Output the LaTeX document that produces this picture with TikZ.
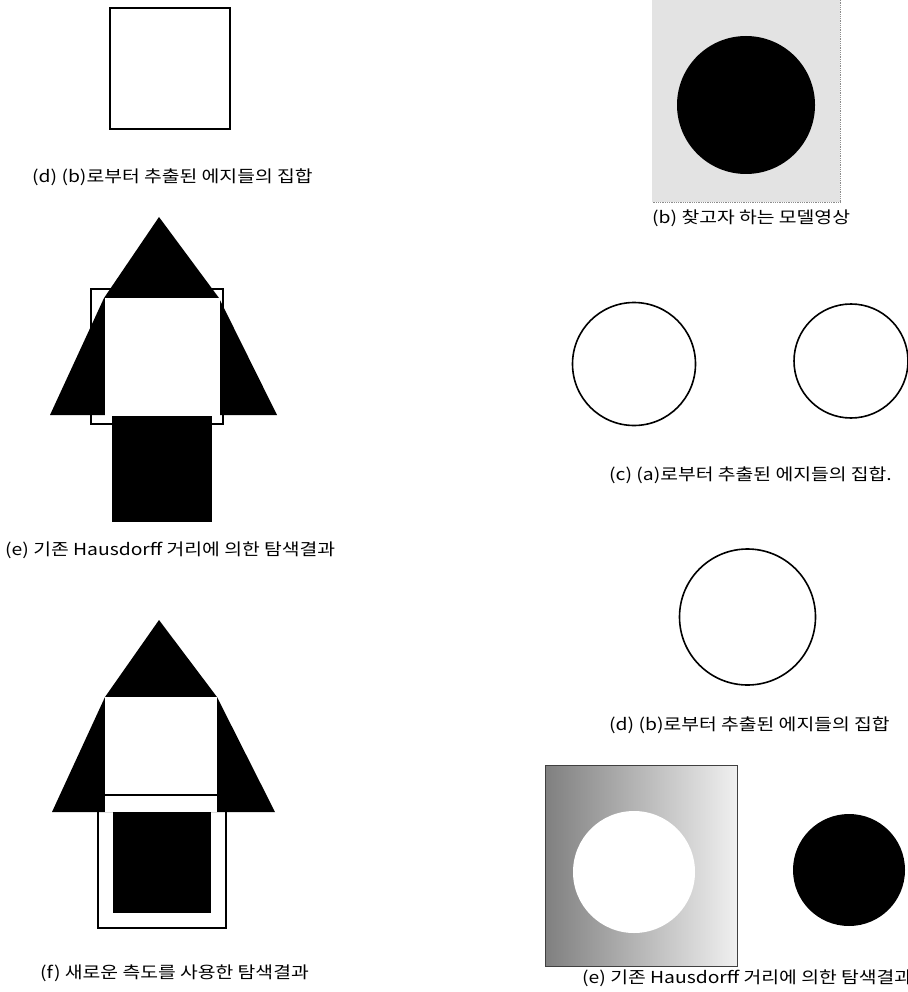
\documentclass[tikz,border=0pt]{standalone}
\usepackage{fontspec}
\newfontfamily\kr[FakeStretch=1.17]{Noto Sans CJK KR}
\tikzset{
  captext/.style={anchor=west, inner sep=0pt, font=\kr\fontsize{16.5}{18}\selectfont},
  edgeline/.style={draw=black, line width=1.6pt},
  frameline/.style={draw=black, line width=1.2pt}
}
\begin{document}
\begin{tikzpicture}[x=1pt, y=-1pt]
\useasboundingbox (0,0) rectangle (907,992);
\fill[white] (0,0) rectangle (907,992);

% top-left square (edges of b)
\draw[edgeline] (110,8) rectangle (230,129);
\node[captext] (capd1) at (32,177) {(d) (b)로부터 추출된 에지들의 집합};

% top-right model image
\fill[black!11] (652,-2) rectangle (840,202);
\draw[black!45, densely dotted, line width=0.8pt] (840,-2) -- (840,202) -- (652,202);
\fill[black] (746,105) circle (69);
\node[captext] (capb) at (652,218) {(b) 찾고자 하는 모델영상};

% (e) left: classic Hausdorff result
\fill[black] (159,217) -- (219,298) -- (277,415) -- (50,415) -- (104,298) -- cycle;
\fill[white] (105,298) rectangle (220,416);
\fill[black] (112,416) rectangle (212,522);
\draw[frameline] (91,289) rectangle (223,424);
\node[captext] (cape1) at (5,550) {(e) 기존 Hausdorff 거리에 의한 탐색결과};

% (f) left: new measure result
\fill[black] (159,620) -- (217,697) -- (275,812) -- (52,812) -- (105,697) -- cycle;
\fill[white] (105,697) rectangle (217,812);
\draw[frameline] (98,795) rectangle (226,928);
\fill[black] (113,812) rectangle (211,913);
\node[captext] (capf) at (40,973) {(f) 새로운 측도를 사용한 탐색결과};

% (c) right: edges of (a)
\draw[edgeline] (634,364) circle (61.5);
\draw[edgeline] (851,361) circle (57);
\node[captext] (capc) at (609,475) {(c) (a)로부터 추출된 에지들의 집합.};

% (d) right: edges of (b)
\draw[edgeline] (747.5,617) circle (68);
\node[captext] (capd2) at (609,725) {(d) (b)로부터 추출된 에지들의 집합};

% (e) right
\shade[left color=black!50, right color=black!6] (545,765) rectangle (737,966);
\fill[white] (634,872) circle (61);
\draw[black!75, line width=0.8pt] (545,765) rectangle (737,966);
\fill[black] (849,870) circle (56);
\node[captext] (cape2) at (582,978) {(e) 기존 Hausdorff 거리에 의한 탐색결과};
\end{tikzpicture}
\end{document}
